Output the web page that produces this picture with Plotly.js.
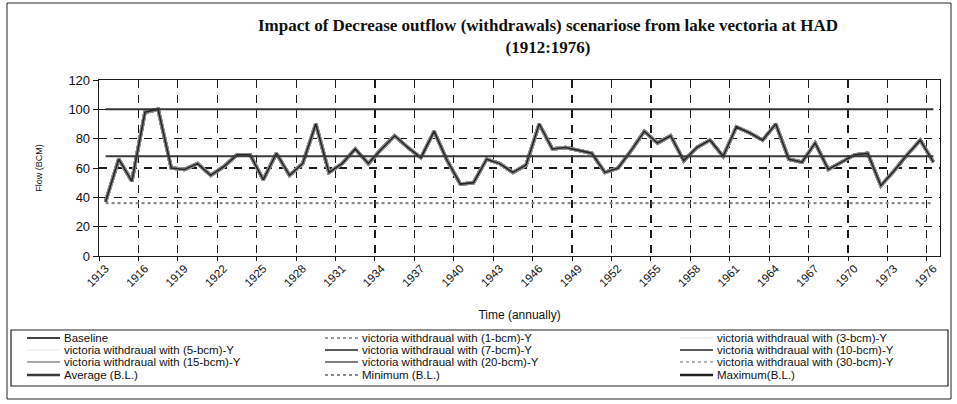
<!DOCTYPE html>
<html>
<head>
<meta charset="utf-8">
<script src="https://cdn.plot.ly/plotly-3.0.1.min.js"></script>
<style>
html,body{margin:0;padding:0;background:#ffffff;}
#chart{width:957px;height:404px;}
</style>
</head>
<body>
<div id="chart"></div>
<script>
// ---------------- data ----------------
const years = [1913,1914,1915,1916,1917,1918,1919,1920,1921,1922,1923,1924,1925,1926,1927,1928,
  1929,1930,1931,1932,1933,1934,1935,1936,1937,1938,1939,1940,1941,1942,1943,1944,
  1945,1946,1947,1948,1949,1950,1951,1952,1953,1954,1955,1956,1957,1958,1959,1960,
  1961,1962,1963,1964,1965,1966,1967,1968,1969,1970,1971,1972,1973,1974,1975,1976];

const baselineFlow = [37,66,51,98,100,60,59,63,55,61,69,69,52,70,55,63,
  90,57,63,73,63,73,82,74,67,85,65,49,50,66,63,57,
  62,90,73,74,72,70,57,60,72,85,77,82,65,74,79,68,
  88,84,79,90,66,64,77,59,64,69,70,48,58,69,79,64];

// The withdrawal scenario lines lie on top of the baseline in the source
// picture and cannot be told apart from it, so they carry the same readings.
const scenarioNames = [
  'victoria withdraual with (1-bcm)-Y',
  'victoria withdraual with (3-bcm)-Y',
  'victoria withdraual with (5-bcm)-Y',
  'victoria withdraual with (7-bcm)-Y',
  'victoria withdraual with (10-bcm)-Y',
  'victoria withdraual with (15-bcm)-Y',
  'victoria withdraual with (20-bcm)-Y',
  'victoria withdraual with (30-bcm)-Y'
];

const averageBL = 68;
const minimumBL = 36;
const maximumBL = 100;

const xTickYears = [1913,1916,1919,1922,1925,1928,1931,1934,1937,1940,1943,1946,
  1949,1952,1955,1958,1961,1964,1967,1970,1973,1976];
const yTicks = [0,20,40,60,80,100,120];

// ---------------- styles ----------------
const scenarioStyles = [
  {color:'#9a9a9a', dash:'dot'},
  {color:'#f2f2f2', dash:'solid'},
  {color:'#f2f2f2', dash:'solid'},
  {color:'#222222', dash:'solid'},
  {color:'#222222', dash:'solid'},
  {color:'#8c8c8c', dash:'solid'},
  {color:'#555555', dash:'solid'},
  {color:'#b5b5b5', dash:'dot'}
];

const W = 957, H = 404;
const M = {l:99, r:17, t:80, b:148};
const PW = W - M.l - M.r, PH = H - M.t - M.b;
const px2x = p => (p - M.l) / PW;
const px2y = p => (H - M.b - p) / PH;

const FONT = 'Liberation Sans, Arial, sans-serif';

// ---------------- traces ----------------
const traces = [];
scenarioNames.forEach((name, i) => {
  traces.push({
    type:'scatter', mode:'lines', name:name, x:years, y:baselineFlow,
    line:{color:'#8f8f8f', width:3.4}, showlegend:false, hoverinfo:'skip'
  });
});
traces.push({
  type:'scatter', mode:'lines', name:'Baseline', x:years, y:baselineFlow,
  line:{color:'#262626', width:1.6}, showlegend:false
});
traces.push({
  type:'scatter', mode:'lines', name:'Average (B.L.)', xaxis:'x2',
  x:[years[0], years[years.length-1]], y:[averageBL, averageBL],
  line:{color:'#3a3a3a', width:2}, showlegend:false
});
traces.push({
  type:'scatter', mode:'lines', name:'Minimum (B.L.)',
  x:[years[0], years[years.length-1]], y:[minimumBL, minimumBL],
  line:{color:'#8a8a8a', width:2.2, dash:'dot'}, showlegend:false
});
traces.push({
  type:'scatter', mode:'lines', name:'Maximum(B.L.)',
  x:[years[0], years[years.length-1]], y:[maximumBL, maximumBL],
  line:{color:'#333333', width:2}, showlegend:false
});

// ---------------- manual legend (Excel-like, 3 columns x 4 rows) ----------------
const legendEntries = [
  {name:'Baseline', color:'#444444', dash:'solid', w:2},
  {name:scenarioNames[0], color:scenarioStyles[0].color, dash:'dot', w:2},
  {name:scenarioNames[1], color:scenarioStyles[1].color, dash:'solid', w:2},
  {name:scenarioNames[2], color:scenarioStyles[2].color, dash:'solid', w:2},
  {name:scenarioNames[3], color:scenarioStyles[3].color, dash:'solid', w:1.5},
  {name:scenarioNames[4], color:scenarioStyles[4].color, dash:'solid', w:1.5},
  {name:scenarioNames[5], color:scenarioStyles[5].color, dash:'solid', w:1.5},
  {name:scenarioNames[6], color:scenarioStyles[6].color, dash:'solid', w:1.5},
  {name:scenarioNames[7], color:scenarioStyles[7].color, dash:'dot', w:2},
  {name:'Average (B.L.)', color:'#3a3a3a', dash:'solid', w:2.5},
  {name:'Minimum (B.L.)', color:'#8a8a8a', dash:'dot', w:2.2},
  {name:'Maximum(B.L.)', color:'#222222', dash:'solid', w:2.5}
];
const colX = [27, 325, 680];
const rowY = [338, 350, 362, 375];

const shapes = [];
const annotations = [];

// outer frame
shapes.push({type:'rect', xref:'paper', yref:'paper', x0:px2x(7), x1:px2x(951), y0:px2y(399), y1:px2y(3),
  line:{color:'#222', width:1}, fillcolor:'rgba(0,0,0,0)', layer:'below'});
// legend box
shapes.push({type:'rect', xref:'paper', yref:'paper', x0:px2x(11), x1:px2x(948), y0:px2y(386), y1:px2y(330),
  line:{color:'#222', width:1.2}, fillcolor:'rgba(0,0,0,0)'});

legendEntries.forEach((e, k) => {
  const r = Math.floor(k / 3), c = k % 3;
  const y = px2y(rowY[r]);
  shapes.push({type:'line', xref:'paper', yref:'paper', x0:px2x(colX[c]), x1:px2x(colX[c] + 33), y0:y, y1:y,
    line:{color:e.color, width:e.w, dash:e.dash}});
  annotations.push({xref:'paper', yref:'paper', x:px2x(colX[c] + 35), y:y, xanchor:'left', yanchor:'middle',
    text:e.name, showarrow:false, font:{family:FONT, size:11.5, color:'#111'}});
});

// ---------------- layout ----------------
const layout = {
  width:W, height:H,
  margin:M,
  paper_bgcolor:'#ffffff', plot_bgcolor:'#ffffff',
  showlegend:false,
  title:{
    text:'<b>Impact of Decrease outflow (withdrawals) scenariose from lake vectoria at HAD<br>(1912:1976)</b>',
    font:{family:'Liberation Serif, Times New Roman, serif', size:17, color:'#111'},
    xref:'container', yref:'container', x:548/W, xanchor:'center', y:1 - 31/H, yanchor:'middle'
  },
  xaxis:{
    range:[1912.5, 1976.5], tickmode:'array', tickvals:xTickYears, ticktext:xTickYears.map(String),
    tickangle:-45, ticks:'', showgrid:false, zeroline:false,
    showline:true, mirror:true, linecolor:'#1a1a1a', linewidth:1.3,
    tickfont:{family:FONT, size:11.5, color:'#111'},
    title:{text:'Time (annually)', font:{family:FONT, size:12, color:'#111'}, standoff:22},
    automargin:false
  },
  xaxis2:{
    overlaying:'x', anchor:'y', side:'bottom', range:[1912.5, 1976.5],
    tickmode:'linear', tick0:1912.5, dtick:3, showticklabels:false,
    showgrid:true, griddash:'8px,7px', gridcolor:'#1a1a1a', gridwidth:1.2,
    ticks:'outside', ticklen:4, tickcolor:'#1a1a1a', zeroline:false, showline:false
  },
  yaxis:{
    range:[0,120], tickmode:'array', tickvals:yTicks,
    showgrid:true, griddash:'8px,7px', gridcolor:'#1a1a1a', gridwidth:1.2,
    zeroline:false, showline:true, mirror:true, linecolor:'#1a1a1a', linewidth:1.3,
    ticks:'outside', ticklen:5, tickcolor:'#1a1a1a',
    tickfont:{family:FONT, size:13, color:'#111'},
    title:{text:'Flow (BCM)', font:{family:FONT, size:9, color:'#111'}, standoff:24},
    automargin:false
  },
  shapes:shapes,
  annotations:annotations
};

Plotly.newPlot('chart', traces, layout, {displayModeBar:false, staticPlot:true});
</script>
</body>
</html>
